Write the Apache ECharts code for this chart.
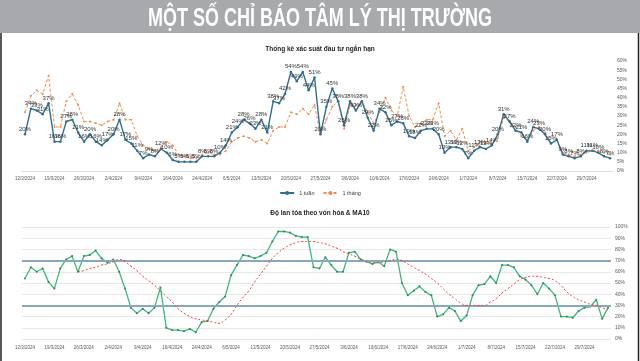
<!DOCTYPE html>
<html><head><meta charset="utf-8">
<script src="https://cdn.jsdelivr.net/npm/echarts@6/dist/echarts.min.js"></script>
<style>html,body{margin:0;padding:0;background:#fff}#c{width:640px;height:361px}</style>
</head><body><div id="c"></div>
<script>
const dates = [
"12/3/2024","13/3/2024","14/3/2024","15/3/2024","18/3/2024","19/3/2024","20/3/2024","21/3/2024","22/3/2024","25/3/2024",
"26/3/2024","27/3/2024","28/3/2024","29/3/2024","1/4/2024","2/4/2024","3/4/2024","4/4/2024","5/4/2024","8/4/2024",
"9/4/2024","10/4/2024","11/4/2024","12/4/2024","15/4/2024","16/4/2024","17/4/2024","19/4/2024","22/4/2024","23/4/2024",
"24/4/2024","25/4/2024","26/4/2024","2/5/2024","3/5/2024","6/5/2024","7/5/2024","8/5/2024","9/5/2024","10/5/2024",
"13/5/2024","14/5/2024","15/5/2024","16/5/2024","17/5/2024","20/5/2024","21/5/2024","22/5/2024","23/5/2024","24/5/2024",
"27/5/2024","28/5/2024","29/5/2024","30/5/2024","31/5/2024","3/6/2024","4/6/2024","5/6/2024","6/6/2024","7/6/2024",
"10/6/2024","11/6/2024","12/6/2024","13/6/2024","14/6/2024","17/6/2024","18/6/2024","19/6/2024","20/6/2024","21/6/2024",
"24/6/2024","25/6/2024","26/6/2024","27/6/2024","28/6/2024","1/7/2024","2/7/2024","3/7/2024","4/7/2024","5/7/2024",
"8/7/2024","9/7/2024","10/7/2024","11/7/2024","12/7/2024","15/7/2024","16/7/2024","17/7/2024","18/7/2024","19/7/2024",
"22/7/2024","23/7/2024","24/7/2024","25/7/2024","26/7/2024","29/7/2024","30/7/2024","31/7/2024","1/8/2024","2/8/2024"];

const week1 = [20,34,33,31,37,16,16,27,28,21, 16,20,16,14,17,20,28,17,15,11,
  7,9,8,12,10,6,5,5,5,5, 8,8,8,10,14,21,24,28,26,23, 28,21,38,37,42,54,49,54,44,51,
  20,35,45,38,25,38,33,38,29,22, 34,32,25,27,26,19,18,22,23,23, 20,10,13,13,12,7,11,13,12,14,
  20,31,27,22,21,16,24,23,20,15, 17,9,8,7,8,11,11,10,8,7];
const month1 = [32,41,44,42,52,24,24,38,42,36, 27,27,26,25,27,28,37,28,28,19,
  14,12,11,13,16,14,9,8,7,7, 9,10,9,9,11,16,18,19,18,16, 17,15,22,24,24,32,31,34,31,36,
  20,28,35,38,23,36,36,38,32,26, 32,40,33,30,46,30,24,26,28,28, 37,19,22,17,23,11,13,16,15,15,
  18,29,27,24,19,17,22,24,21,15, 17,10,9,8,9,10,11,11,10,9];
const breadth = [54,64,60,63,51,45,63,71,74,60, 74,75,79,72,68,71,60,45,28,23,
  27,23,28,46,10,8,8,7,9,6, 15,16,27,33,38,57,66,75,74,72, 74,77,87,96,96,95,92,91,91,64,
  63,73,66,60,60,77,78,71,69,67, 69,65,80,78,50,39,43,47,42,39, 20,22,28,25,16,21,39,48,49,56,
  50,66,66,64,56,53,48,40,50,45, 39,20,20,19,25,28,29,35,18,28];
const ma10 = [null,null,null,null,null,null,null,null,null,60, 61,63,64,66,67,69,71,69,65,61,
  56,52,48,43,38,33,27,23,20,18, 17,16,15,14,17,22,30,37,43,51, 58,65,72,77,81,84,86,87,87,87,
  86,85,83,81,78,76,74,71,69,68, 68,69,70,71,70,67,64,61,58,54, 50,45,40,36,32,30,30,30,30,33,
  36,41,45,49,53,55,56,56,55,54, 52,48,42,38,35,33,31,30,28,26];
const refLevels = [70, 30];
const bannerText = 'MỘT SỐ CHỈ BÁO TÂM LÝ THỊ TRƯỜNG';

// condensed banner: fit the text to the reference width
const bannerFont = 'bold 26px "Liberation Sans", Arial, sans-serif';
const mctx = document.createElement('canvas').getContext('2d');
mctx.font = bannerFont;
const bannerScale = 344 / mctx.measureText(bannerText).width;

const chart = echarts.init(document.getElementById('c'), null, {renderer:'canvas'});
const axisLbl = {fontSize:4.5, color:'#595959', fontFamily:'Liberation Sans, Arial, sans-serif'};
chart.setOption({
  animation:false,
  backgroundColor:'#fff',
  graphic:[
    {type:'rect', left:0, top:0, shape:{width:640, height:33}, style:{fill:'#a7a9ac'}, z:0},
    {type:'text', x:320, y:18.5, scaleX:bannerScale, z:1,
     style:{text:bannerText, x:0, y:0, textAlign:'center', textVerticalAlign:'middle',
            font:bannerFont, fill:'#fff'}},
    {type:'line', shape:{x1:1, y1:33, x2:1, y2:361}, style:{stroke:'#222', lineWidth:1.5}},
    {type:'line', shape:{x1:638.5, y1:33, x2:638.5, y2:361}, style:{stroke:'#222', lineWidth:1.5}}
  ],
  title:[
    {text:'Thống kê xác suất đầu tư ngắn hạn', left:'center', top:41,
     textStyle:{color:'#262626', fontSize:6.5, fontWeight:'bold', fontFamily:'Liberation Sans, Arial, sans-serif'}},
    {text:'Độ lan tỏa theo vốn hóa & MA10', left:'center', top:205,
     textStyle:{color:'#262626', fontSize:6.5, fontWeight:'bold', fontFamily:'Liberation Sans, Arial, sans-serif'}}
  ],
  legend:{data:['1 tuần','1 tháng'], top:185, left:'center', itemWidth:14, itemHeight:5, itemGap:8,
    textStyle:{fontSize:5.5, color:'#404040'}},
  grid:[
    {left:22, right:27, top:61, bottom:190},
    {left:22, right:29, top:227, bottom:22}
  ],
  xAxis:[
    {type:'category', gridIndex:0, data:dates, boundaryGap:true,
     axisLine:{lineStyle:{color:'#e0e0e0'}}, axisTick:{show:false},
     axisLabel:Object.assign({interval:4, margin:5}, axisLbl)},
    {type:'category', gridIndex:1, data:dates, boundaryGap:true,
     axisLine:{show:false}, axisTick:{show:false},
     axisLabel:Object.assign({interval:4, margin:6}, axisLbl)}
  ],
  yAxis:[
    {type:'value', gridIndex:0, position:'right', min:0, max:60, interval:5,
     splitLine:{show:false}, axisLine:{show:false}, axisTick:{show:false},
     axisLabel:Object.assign({formatter:'{value}%', margin:4}, axisLbl, {fontSize:5})},
    {type:'value', gridIndex:1, position:'right', min:0, max:100, interval:10,
     splitLine:{lineStyle:{color:'#e8e8e8'}}, axisLine:{show:false}, axisTick:{show:false},
     axisLabel:Object.assign({formatter:'{value}%', margin:4}, axisLbl, {fontSize:5})}
  ],
  series:[
    {name:'1 tuần', type:'line', xAxisIndex:0, yAxisIndex:0, data:week1,
     symbol:'circle', symbolSize:2.5, z:4,
     lineStyle:{color:'#2f6f91', width:1.4}, itemStyle:{color:'#2f6f91'},
     label:{show:true, position:'top', distance:1, formatter:'{c}%', fontSize:6, color:'#333'}},
    {name:'1 tháng', type:'line', xAxisIndex:0, yAxisIndex:0, data:month1,
     symbol:'circle', symbolSize:2, z:3,
     lineStyle:{color:'#ef8b4f', width:1, type:[3,2]}, itemStyle:{color:'#ef8b4f'}},
    {name:'Độ lan tỏa', type:'line', xAxisIndex:1, yAxisIndex:1, data:breadth,
     symbol:'circle', symbolSize:2, z:4,
     lineStyle:{color:'#3cb878', width:1.3}, itemStyle:{color:'#2e8a58'},
     markLine:{silent:true, symbol:'none', label:{show:false},
       lineStyle:{color:'#87a9ba', width:2.2, type:'solid'},
       data:refLevels.map(v=>({yAxis:v}))}},
    {name:'MA10', type:'line', xAxisIndex:1, yAxisIndex:1, data:ma10,
     symbol:'none', smooth:true, z:5,
     lineStyle:{color:'#ee3b3b', width:1, type:[2,2]}}
  ]
});
</script></body></html>
